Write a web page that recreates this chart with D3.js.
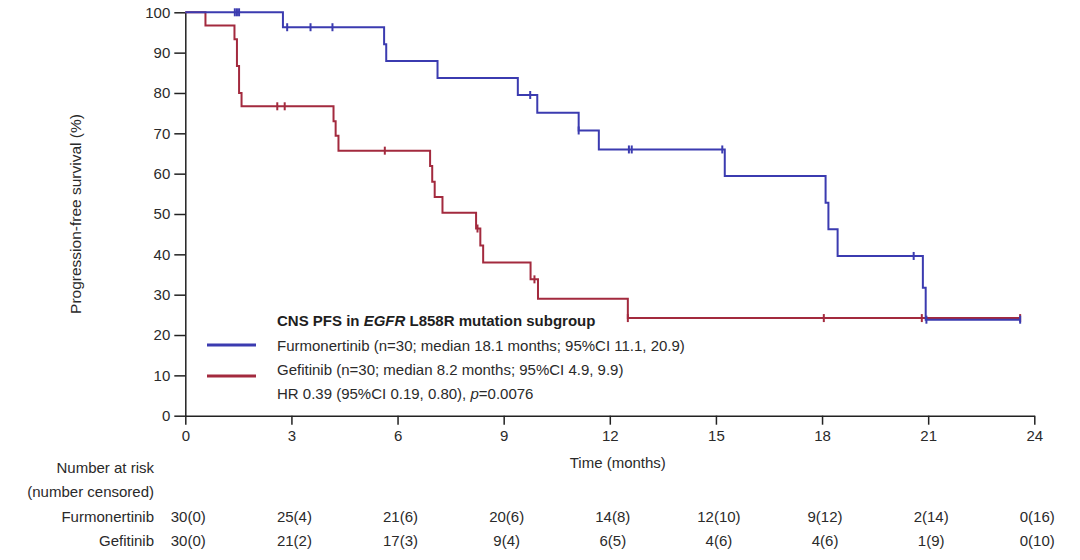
<!DOCTYPE html>
<html>
<head>
<meta charset="utf-8">
<script src="https://cdn.jsdelivr.net/npm/d3@7"></script>
<style>
  body { margin: 0; background: #fff; }
  svg { font-family: "Liberation Sans", Arial, sans-serif; }
  .axis text { font-size: 15px; fill: #2a2a2a; }
  .axis path, .axis line { stroke: #222; stroke-width: 1.5px; }
</style>
</head>
<body>
<svg id="chart" width="1080" height="560"></svg>
<script>
const BLUE = "#3b3bb0";
const RED = "#a32a3e";

// Kaplan-Meier steps: [time in months, survival %]
const furmSteps = [[0, 100], [2.76, 96.3], [5.62, 92.1], [5.68, 87.9], [7.13, 83.7],
    [9.40, 79.5], [9.95, 75.1], [11.12, 70.7], [11.69, 66.0], [15.25, 59.4],
    [18.10, 52.8], [18.18, 46.2], [18.44, 39.6], [20.85, 31.7], [20.93, 23.8], [23.6, 23.8]];
const furmCensors = [1.40, 1.46, 1.52, 2.88, 3.54, 4.16, 9.75, 11.12, 12.54, 12.62,
    15.18, 20.59, 20.95, 23.6];

const gefSteps = [[0, 100], [0.57, 96.7], [1.39, 93.3], [1.46, 86.7], [1.52, 80.0],
    [1.59, 76.7], [4.19, 73.0], [4.25, 69.4], [4.33, 65.7], [6.92, 61.9], [6.98, 58.0],
    [7.05, 54.2], [7.27, 50.3], [8.22, 46.4], [8.34, 42.2], [8.42, 38.0], [9.76, 33.8],
    [9.97, 29.0], [12.51, 24.2], [23.6, 24.2]];
const gefCensors = [2.60, 2.81, 5.64, 8.26, 9.87, 12.51, 18.05, 20.82, 23.6];

const xTicks = [0, 3, 6, 9, 12, 15, 18, 21, 24];
const yTicks = [0, 10, 20, 30, 40, 50, 60, 70, 80, 90, 100];

// number at risk (number censored) at each x tick
const furmAtRisk = [30, 25, 21, 20, 14, 12, 9, 2, 0];
const furmCensored = [0, 4, 6, 6, 8, 10, 12, 14, 16];
const gefAtRisk = [30, 21, 17, 9, 6, 4, 4, 1, 0];
const gefCensored = [0, 2, 3, 4, 5, 6, 6, 9, 10];

const legendTitle = ["CNS PFS in ", "EGFR", " L858R mutation subgroup"];
const legendItems = [
    { label: "Furmonertinib (n=30; median 18.1 months; 95%CI 11.1, 20.9)", color: BLUE },
    { label: "Gefitinib (n=30; median 8.2 months; 95%CI 4.9, 9.9)", color: RED }
];

const svg = d3.select("#chart");
const x = d3.scaleLinear().domain([0, 24]).range([185.3, 1034.3]);
const y = d3.scaleLinear().domain([0, 100]).range([415.7, 12.3]);

// axes
svg.append("g")
    .attr("class", "axis")
    .attr("transform", "translate(0," + y(0) + ")")
    .call(d3.axisBottom(x).tickValues(xTicks).tickSize(9).tickSizeOuter(0).tickPadding(6));

svg.append("g")
    .attr("class", "axis")
    .attr("transform", "translate(" + x(0) + ",0)")
    .call(d3.axisLeft(y).tickValues(yTicks).tickSize(11).tickSizeOuter(0).tickPadding(4));

svg.append("text")
    .attr("transform", "translate(81," + ((y(0) + y(100)) / 2) + ") rotate(-90)")
    .attr("text-anchor", "middle")
    .style("font-size", "15.5px")
    .style("fill", "#2a2a2a")
    .text("Progression-free survival (%)");

svg.append("text")
    .attr("x", x(12) + 8)
    .attr("y", 468)
    .attr("text-anchor", "middle")
    .style("font-size", "15px")
    .style("fill", "#2a2a2a")
    .text("Time (months)");

// curves
const stepLine = d3.line()
    .x((d) => x(d[0]))
    .y((d) => y(d[1]))
    .curve(d3.curveStepAfter);

function survivalAt(steps, t) {
    let v = steps[0][1];
    steps.forEach((s) => { if (s[0] <= t) v = s[1]; });
    return v;
}

function drawArm(steps, censors, color) {
    svg.append("path")
        .datum(steps)
        .attr("d", stepLine)
        .attr("fill", "none")
        .attr("stroke", color)
        .attr("stroke-width", 2);

    svg.append("g")
        .selectAll("line")
        .data(censors)
        .enter().append("line")
            .attr("x1", (t) => x(t))
            .attr("x2", (t) => x(t))
            .attr("y1", (t) => y(survivalAt(steps, t)) - 4)
            .attr("y2", (t) => y(survivalAt(steps, t)) + 4)
            .attr("stroke", color)
            .attr("stroke-width", 2);
}

drawArm(gefSteps, gefCensors, RED);
drawArm(furmSteps, furmCensors, BLUE);

// legend
const legend = svg.append("g").attr("transform", "translate(277,0)");
legend.append("text")
    .attr("y", 326)
    .style("font-size", "15px")
    .style("font-weight", "bold")
    .style("fill", "#1e1e1e")
    .selectAll("tspan")
    .data(legendTitle)
    .enter().append("tspan")
        .style("font-style", (d, i) => i === 1 ? "italic" : "normal")
        .text((d) => d);

legendItems.forEach((item, i) => {
    let ly = 345 + i * 31;
    svg.append("line")
        .attr("x1", 207).attr("x2", 256)
        .attr("y1", ly).attr("y2", ly)
        .attr("stroke", item.color)
        .attr("stroke-width", 3);
    legend.append("text")
        .attr("y", 351 + i * 24)
        .style("font-size", "15px")
        .style("fill", "#2a2a2a")
        .text(item.label);
});

const hr = legend.append("text")
    .attr("y", 399)
    .style("font-size", "15px")
    .style("fill", "#2a2a2a");
hr.append("tspan").text("HR 0.39 (95%CI 0.19, 0.80), ");
hr.append("tspan").style("font-style", "italic").text("p");
hr.append("tspan").text("=0.0076");

// number at risk table
const tableText = (tx, ty, anchor, str) => svg.append("text")
    .attr("x", tx).attr("y", ty)
    .attr("text-anchor", anchor)
    .style("font-size", "15px")
    .style("fill", "#2a2a2a")
    .text(str);

tableText(154, 473, "end", "Number at risk");
tableText(154, 497, "end", "(number censored)");
tableText(154, 522, "end", "Furmonertinib");
tableText(154, 546, "end", "Gefitinib");

xTicks.forEach((t, i) => {
    tableText(x(t) + 3, 522, "middle", furmAtRisk[i] + "(" + furmCensored[i] + ")");
    tableText(x(t) + 3, 546, "middle", gefAtRisk[i] + "(" + gefCensored[i] + ")");
});
</script>
</body>
</html>
